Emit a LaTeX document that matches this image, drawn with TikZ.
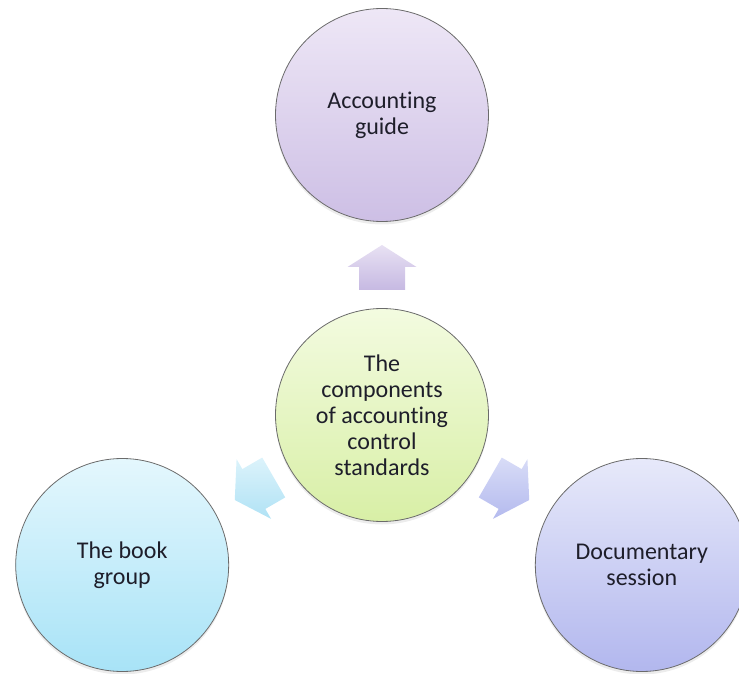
\documentclass[tikz,border=0pt]{standalone}
\usepackage{fontspec}
\setmainfont{Carlito}[Ligatures=NoCommon]
\usetikzlibrary{shadows,calc}

% fills of the four circles and three block arrows
\definecolor{guideTop}{HTML}{EEE7F6}
\definecolor{guideBot}{HTML}{CDBFE5}
\definecolor{hubTop}{HTML}{F3FBE0}
\definecolor{hubBot}{HTML}{D8EFA6}
\definecolor{bookTop}{HTML}{E4F7FD}
\definecolor{bookBot}{HTML}{A8E3F7}
\definecolor{docTop}{HTML}{E7E9FA}
\definecolor{docBot}{HTML}{B2B7EE}
\definecolor{upTop}{HTML}{E8E1F3}
\definecolor{upBot}{HTML}{C6B9E2}
\definecolor{leftTop}{HTML}{DCF3FB}
\definecolor{leftBot}{HTML}{B0E2F5}
\definecolor{rightTop}{HTML}{D8DCF7}
\definecolor{rightBot}{HTML}{B4BAEE}
\definecolor{ink}{HTML}{1E1E2A}

% keeps "t" and "i" as separate letters (Carlito joins them otherwise)
\newcommand{\nolig}{\kern0pt{}}

\begin{document}
\begin{tikzpicture}[x=1pt,y=1pt,
  bubble/.style={circle, draw=black!58, line width=0.8pt,
    minimum size=213pt, inner sep=0pt, align=center, text=ink,
    font=\fontsize{24}{26}\selectfont,
    drop shadow={opacity=0.15, shadow xshift=0pt, shadow yshift=-3pt}},
  % block arrow pointing along local +x, starting 125pt from its anchor
  pointer/.pic={
    \path[pic actions] (125,-23) -- (148,-23) -- (148,-34.5) -- (170,0)
      -- (148,34.5) -- (148,23) -- (125,23) -- cycle;
  },
  arrowshadow/.style={drop shadow={opacity=0.12, shadow xshift=0pt, shadow yshift=-2pt}}
]
\useasboundingbox (0,0) rectangle (739,673);
\clip (0,0) rectangle (739,673);

% hub and its three satellites
\node[bubble, top color=hubTop, bottom color=hubBot] (hub) at (382,258)
  {The\\components\\of account\nolig ing\\control\\standards};
\node[bubble, top color=guideTop, bottom color=guideBot] (guide)
  at ($(hub.center)+(90:300)$) {Account\nolig ing\\guide};
\node[bubble, top color=bookTop, bottom color=bookBot] (book)
  at ($(hub.center)+(210:300)$) {The book\\group};
\node[bubble, top color=docTop, bottom color=docBot] (docs)
  at ($(hub.center)+(330:300)$) {Documentary\\session};

% block arrows from the hub towards each satellite
\pic[rotate=90, top color=upTop, bottom color=upBot, arrowshadow] at (hub.center) {pointer};
\pic[rotate=210, top color=leftTop, bottom color=leftBot, arrowshadow] at (hub.center) {pointer};
\pic[rotate=330, top color=rightTop, bottom color=rightBot, arrowshadow] at (hub.center) {pointer};
\end{tikzpicture}
\end{document}
